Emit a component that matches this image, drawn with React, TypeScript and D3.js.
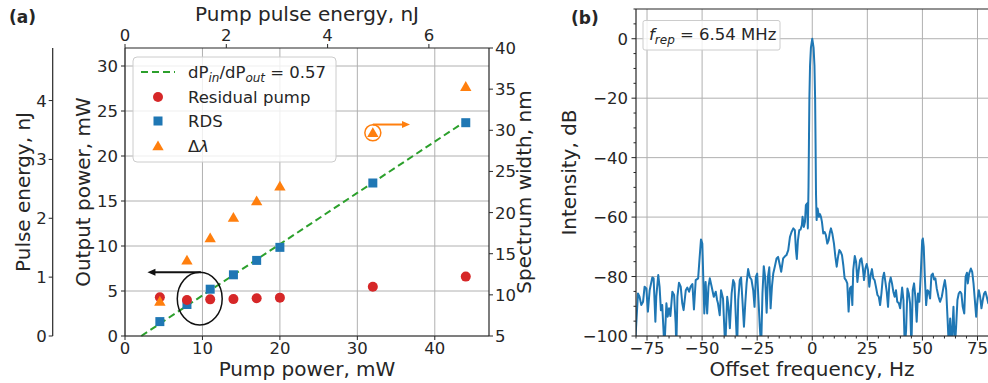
import { useEffect, useRef } from 'react'
import * as d3 from 'd3'

const WIDTH = 988
const HEIGHT = 383
const REP_RATE = 6.54 // MHz

// (a) power scaling
const pumpPower = [4.5, 8, 11, 14, 17, 20, 32, 44]
const residualPump = [4.3, 4.0, 4.07, 4.1, 4.2, 4.26, 5.48, 6.6]
const rdsPower = [1.6, 3.5, 5.2, 6.8, 8.4, 9.85, 17.0, 23.7]
const spectrumWidth = [9.2, 14.2, 16.9, 19.4, 21.4, 23.2, 29.7, 35.3]
const fitSlope = 0.57
const fitStart = 2.1
const fitEnd = 44

const pumpTicks = [0, 10, 20, 30, 40]
const outputTicks = [0, 5, 10, 15, 20, 25, 30]
const widthTicks = [5, 10, 15, 20, 25, 30, 35, 40]
const energyTicks = [0, 2, 4, 6]
const pulseTicks = [0, 1, 2, 3, 4]

// (b) RF spectrum
const freqTicks = [-75, -50, -25, 0, 25, 50, 75]
const dbTicks = [-100, -80, -60, -40, -20, 0]
const specFreq = [
  -80.5, -79.1, -78.4, -77.6, -76.8, -76.1, -75.3, -74.6, -73.8, -72.6, -72.0, -71.2, -70.8, -69.9,
  -69.3, -68.7, -68.1, -67.1, -66.2, -65.6, -65.0, -64.4, -63.5, -62.7, -62.0, -61.7, -61.2, -60.5,
  -59.7, -59.0, -58.4, -57.4, -56.7, -55.9, -55.2, -54.4, -53.7, -52.9, -51.8, -51.1, -50.5, -49.9,
  -49.3, -49.0, -48.4, -47.7, -47.1, -46.5, -45.8, -44.7, -43.8, -43.2, -42.8, -42.0, -41.4, -40.5,
  -39.5, -38.6, -38.0, -37.4, -36.6, -35.9, -35.3, -34.7, -34.1, -33.6, -32.9, -32.3, -31.7, -31.0,
  -30.4, -29.8, -29.1, -28.3, -27.6, -26.8, -26.2, -25.6, -25.0, -24.4, -23.8, -23.2, -22.6, -22.0,
  -21.4, -20.7, -20.1, -19.5, -18.9, -18.3, -17.7, -17.0, -16.2, -15.5, -14.7, -14.1, -13.2, -12.3,
  -11.7, -10.9, -10.1, -9.4, -8.6, -7.9, -7.4, -7.0, -6.5, -5.9, -5.3, -4.7, -4.4, -3.8, -3.3, -2.9,
  -2.3, -2.0, -1.7, -1.5, -1.3, -1.0, -0.6, 0, 0.6, 1.0, 1.3, 1.5, 1.7,
  1.98, 2.43, 3.04, 3.5, 3.95, 4.4, 5.0, 5.6, 6.2, 6.83, 7.43, 8.04, 8.5, 9.1, 9.86, 10.5, 11.1,
  11.7, 12.3, 12.9, 13.5, 14.1, 14.7, 15.3, 15.9, 16.5, 17.1, 17.7, 18.2, 18.6, 19.3, 19.9, 20.5,
  21.1, 21.7, 22.3, 22.9, 23.5, 24.1, 24.7, 25.3, 25.9, 26.5, 27.1, 27.7, 28.3, 28.9, 29.6, 30.2,
  30.8, 31.4, 32.0, 32.6, 33.2, 33.8, 34.4, 35.0, 35.6, 36.2, 36.8, 37.4, 38.0, 38.6, 39.3, 39.9,
  40.8, 41.4, 42.0, 42.6, 43.2, 43.8, 44.4, 45.0, 45.6, 46.2, 46.8, 47.4, 48.0, 48.6, 49.2, 49.9,
  50.2, 50.6, 51.1, 51.7, 52.3, 52.9, 53.5, 54.1, 54.7, 55.3, 55.9, 56.5, 57.3, 58.0, 58.8, 59.6,
  60.2, 60.8, 61.4, 62.0, 62.6, 63.2, 64.1, 64.7, 65.3, 65.9, 66.5, 67.1, 67.7, 68.3, 69.0, 69.6,
  70.2, 70.6, 71.2, 72.0, 72.6, 73.2, 73.8, 74.4, 75.0, 75.6, 76.2, 76.8, 77.4, 78.0, 78.6, 79.2,
  79.9, 80.5
]
const specDb = [
  -104, -85.7, -86.8, -89.6, -88.5, -83.4, -84.0, -91.8, -84.6, -80.3, -80.6, -95.2, -86.8, -79.5,
  -83.4, -91.3, -89.6, -104, -89.0, -93.5, -90.7, -93.3, -85.1, -86.2, -95.8, -104, -86.8, -82.1,
  -83.4, -89.0, -91.3, -84.6, -83.7, -85.1, -83.4, -82.5, -91.1, -81.2, -80.6, -73.4, -67.5, -68.9,
  -84.6, -92.4, -81.8, -92.4, -83.4, -80.6, -82.9, -86.8, -85.1, -87.9, -89.0, -93.0, -84.6, -87.4,
  -104, -86.8, -90.2, -97.4, -85.7, -81.2, -82.3, -93.5, -104, -87.9, -81.2, -80.3, -87.9, -96.9,
  -89.0, -82.3, -77.5, -80.3, -81.0, -84.6, -90.2, -80.1, -79.0, -87.9, -96.9, -104, -85.7, -76.5,
  -80.1, -92.2, -80.1, -76.9, -90.7, -83.4, -79.0, -76.7, -73.9, -73.4, -76.2, -78.4, -73.9, -73.1,
  -72.8, -71.1, -66.6, -65.0, -63.8, -64.4, -71.1, -74.1, -67.8, -64.4, -64.2, -62.7, -59.9, -63.3, -61.6, -56.0,
  -55.4, -63.8, -50, -35, -20, -9, -3, 0, -3, -9, -20, -35, -52,
  -61.0, -57.1, -59.9, -59.0, -59.9, -61.6, -65.5, -65.0, -66.1, -68.9, -67.8, -65.0, -63.8, -65.5, -68.9, -73.4, -76.7,
  -73.4, -71.1, -71.7, -72.8, -76.2, -80.6, -81.2, -82.3, -91.8, -84.0, -83.4, -89.6, -77.8, -73.1, -75.0, -81.8,
  -77.8, -74.5, -73.9, -76.7, -81.2, -77.3, -75.8, -77.8, -83.4, -79.5, -77.5, -80.6, -81.2, -83.4, -86.2, -86.8,
  -89.6, -85.7, -80.6, -78.7, -81.8, -85.1, -90.2, -82.3, -80.3, -82.3, -85.1, -86.8, -84.6, -88.5, -89.0, -90.7,
  -83.7, -87.9, -104, -98.0, -84.0, -85.7, -89.0, -104, -84.6, -82.3, -86.8, -95.2, -85.7, -88.5, -80.1, -67.8,
  -67.2, -70.0, -80.1, -89.6, -84.6, -85.1, -87.4, -79.5, -79.0, -81.0, -80.6, -84.0, -86.8, -88.5, -86.8, -83.4,
  -81.2, -84.6, -93.9, -104, -94.1, -104, -90.2, -104, -96.9, -87.9, -85.7, -85.1, -85.7, -90.2, -92.4, -80.1,
  -78.7, -82.3, -79.0, -77.3, -78.4, -82.3, -87.9, -93.5, -87.9, -84.6, -86.8, -90.7, -87.9, -85.7, -85.1, -86.8,
  -89.0, -88.0
]

const FONT = 'DejaVu Sans, sans-serif'
const INK = '#262626'
const GRID = '#b0b0b0'
const TICK_FS = 16.5
const LABEL_FS = 20

export default function App() {
  const svgRef = useRef<SVGSVGElement>(null)

  useEffect(() => {
    if (!svgRef.current) return
    const svg = d3.select(svgRef.current)
    svg.selectAll('*').remove()

    const seg = (x1: number, y1: number, x2: number, y2: number, color: string, w: number) =>
      svg.append('line')
        .attr('x1', x1).attr('y1', y1).attr('x2', x2).attr('y2', y2)
        .style('stroke', color).style('stroke-width', w)

    const label = (x: number, y: number, s: string, anchor: string, size = TICK_FS) =>
      svg.append('text')
        .attr('x', x).attr('y', y)
        .attr('text-anchor', anchor)
        .style('fill', INK)
        .style('font-size', size + 'px')
        .style('font-family', FONT)
        .text(s)

    const vLabel = (x: number, y: number, s: string) =>
      svg.append('text')
        .attr('transform', `translate(${x},${y}) rotate(-90)`)
        .attr('text-anchor', 'middle')
        .style('fill', INK)
        .style('font-size', LABEL_FS + 'px')
        .style('font-family', FONT)
        .text(s)

    const fmt = (v: number) => (v < 0 ? '\u2212' + Math.abs(v) : String(v))

    // ---------------- panel (a)
    const a = { left: 125, right: 489, top: 48, bottom: 336 }
    const x = d3.scaleLinear().domain([0, 47]).range([a.left, a.right])
    const y = d3.scaleLinear().domain([0, 32]).range([a.bottom, a.top])
    const yW = d3.scaleLinear().domain([5, 40]).range([a.bottom, a.top])
    const xE = d3.scaleLinear().domain([0, 47 / REP_RATE]).range([a.left, a.right])
    const yE = d3.scaleLinear().domain([0, 32 / REP_RATE]).range([a.bottom, a.top])

    // grid
    pumpTicks.forEach(t => seg(x(t), a.top, x(t), a.bottom, GRID, 1))
    outputTicks.forEach(t => seg(a.left, y(t), a.right, y(t), GRID, 1))

    // fit line
    svg.append('line')
      .attr('x1', x(fitStart)).attr('y1', y(0))
      .attr('x2', x(fitEnd)).attr('y2', y(fitSlope * (fitEnd - fitStart)))
      .style('stroke', '#2ca02c').style('stroke-width', 2)
      .style('stroke-dasharray', '7,4')

    // RDS squares
    svg.selectAll('.rds')
      .data(pumpPower)
      .join('rect')
      .attr('class', 'rds')
      .attr('x', (d) => x(d) - 4.5)
      .attr('y', (d, i) => y(rdsPower[i]) - 4.5)
      .attr('width', 9).attr('height', 9)
      .style('fill', '#1f77b4')

    // residual pump circles
    svg.selectAll('.res')
      .data(pumpPower)
      .join('circle')
      .attr('class', 'res')
      .attr('cx', d => x(d))
      .attr('cy', (d, i) => y(residualPump[i]))
      .attr('r', 5)
      .style('fill', '#d62728')

    // spectrum width triangles
    const tri = d3.symbol().type(d3.symbolTriangle).size(56)
    svg.selectAll('.dl')
      .data(pumpPower)
      .join('path')
      .attr('class', 'dl')
      .attr('d', tri)
      .attr('transform', (d, i) => `translate(${x(d)},${yW(spectrumWidth[i]) + 1})`)
      .style('fill', '#ff7f0e')

    // annotations
    const arrowHead = (tipX: number, tipY: number, dir: number, color: string) =>
      svg.append('path')
        .attr('d', `M${tipX},${tipY} L${tipX - dir * 8},${tipY - 3.5} L${tipX - dir * 8},${tipY + 3.5} Z`)
        .style('fill', color)

    seg(x(9.8), y(7.08), x(3.6), y(7.08), '#111', 2)
    arrowHead(x(2.9), y(7.08), -1, '#111')
    svg.append('ellipse')
      .attr('cx', x(9.65)).attr('cy', y(4.15))
      .attr('rx', x(9.65 + 2.9) - x(9.65)).attr('ry', y(4.15) - y(4.15 + 2.92))
      .style('fill', 'none').style('stroke', '#111').style('stroke-width', 1.5)

    svg.append('circle')
      .attr('cx', x(32)).attr('cy', yW(29.7))
      .attr('r', 8)
      .style('fill', 'none').style('stroke', '#ff7f0e').style('stroke-width', 1.5)
    seg(x(32), yW(30.7), x(36), yW(30.7), '#ff7f0e', 2)
    arrowHead(x(36.8), yW(30.7), 1, '#ff7f0e')

    // spines
    seg(a.left, a.top, a.right, a.top, INK, 1.2)
    seg(a.left, a.bottom, a.right, a.bottom, INK, 1.2)
    seg(a.left, a.top, a.left, a.bottom, INK, 1.2)
    seg(a.right, a.top, a.right, a.bottom, INK, 1.2)

    // bottom axis
    pumpTicks.forEach(t => {
      seg(x(t), a.bottom, x(t), a.bottom + 4, INK, 1)
      label(x(t), 354, String(t), 'middle')
    })
    label((a.left + a.right) / 2, 376, 'Pump power, mW', 'middle', LABEL_FS)

    // top axis
    energyTicks.forEach(t => {
      seg(xE(t), a.top, xE(t), a.top - 4, INK, 1)
      label(xE(t), 41, String(t), 'middle')
    })
    label((a.left + a.right) / 2, 21, 'Pump pulse energy, nJ', 'middle', LABEL_FS)

    // left axis
    outputTicks.forEach(t => {
      seg(a.left - 4, y(t), a.left, y(t), INK, 1)
      label(118, y(t) + 6, String(t), 'end')
    })
    vLabel(90, (a.top + a.bottom) / 2, 'Output power, mW')

    // outer left axis
    const ox = 52.7
    seg(ox, a.top, ox, a.bottom, INK, 1.2)
    pulseTicks.forEach(t => {
      seg(ox - 4, yE(t), ox, yE(t), INK, 1)
      label(46.7, yE(t) + 6, String(t), 'end')
    })
    vLabel(30, (a.top + a.bottom) / 2, 'Pulse energy, nJ')

    // right axis
    widthTicks.forEach(t => {
      seg(a.right, yW(t), a.right + 4, yW(t), INK, 1)
      label(495, yW(t) + 6, String(t), 'start')
    })
    vLabel(531, (a.top + a.bottom) / 2, 'Spectrum width, nm')

    // legend (a)
    const lg = svg.append('g')
    lg.append('rect')
      .attr('x', 133).attr('y', 57).attr('width', 203).attr('height', 105).attr('rx', 4)
      .style('fill', 'white').style('fill-opacity', 0.8)
      .style('stroke', '#cccccc').style('stroke-width', 1)
    lg.append('line')
      .attr('x1', 141).attr('y1', 72).attr('x2', 175).attr('y2', 72)
      .style('stroke', '#2ca02c').style('stroke-width', 2).style('stroke-dasharray', '7,4')
    const fitText = lg.append('text')
      .attr('x', 188).attr('y', 78)
      .style('fill', INK).style('font-size', TICK_FS + 'px').style('font-family', FONT)
    fitText.append('tspan').text('dP')
    fitText.append('tspan').attr('dy', 4).style('font-size', '12px').style('font-style', 'italic').text('in')
    fitText.append('tspan').attr('dy', -4).text('/dP')
    fitText.append('tspan').attr('dy', 4).style('font-size', '12px').style('font-style', 'italic').text('out')
    fitText.append('tspan').attr('dy', -4).text(' = ' + fitSlope)
    lg.append('circle').attr('cx', 158).attr('cy', 97).attr('r', 5).style('fill', '#d62728')
    label(188, 103, 'Residual pump', 'start')
    lg.append('rect').attr('x', 153.5).attr('y', 116.5).attr('width', 9).attr('height', 9).style('fill', '#1f77b4')
    label(188, 127, 'RDS', 'start')
    lg.append('path').attr('d', tri).attr('transform', 'translate(158,147)').style('fill', '#ff7f0e')
    const dl = label(188, 152, '', 'start')
    dl.append('tspan').text('\u0394')
    dl.append('tspan').style('font-style', 'italic').text('\u03bb')

    svg.append('text')
      .attr('x', 9).attr('y', 23)
      .style('fill', INK).style('font-size', '17px').style('font-weight', 'bold').style('font-family', FONT)
      .text('(a)')

    // ---------------- panel (b)
    const b = { left: 636, right: 988.5, top: 9, bottom: 336 }
    const xb = d3.scaleLinear().domain([-80, 80]).range([b.left, b.right])
    const yb = d3.scaleLinear().domain([-100, 10]).range([b.bottom, b.top])

    freqTicks.forEach(t => seg(xb(t), b.top, xb(t), b.bottom, GRID, 1))
    dbTicks.forEach(t => seg(b.left, yb(t), b.right, yb(t), GRID, 1))

    svg.append('clipPath').attr('id', 'clipB')
      .append('rect')
      .attr('x', b.left).attr('y', b.top).attr('width', b.right - b.left).attr('height', b.bottom - b.top)

    const spec = d3.line<number>()
      .x(d => xb(d))
      .y((d, i) => yb(specDb[i]))
    svg.append('path')
      .datum(specFreq)
      .attr('d', spec)
      .attr('clip-path', 'url(#clipB)')
      .style('fill', 'none')
      .style('stroke', '#1f77b4')
      .style('stroke-width', 2)
      .style('stroke-linejoin', 'round')

    seg(b.left, b.top, b.right, b.top, INK, 1.2)
    seg(b.left, b.bottom, b.right, b.bottom, INK, 1.2)
    seg(b.left, b.top, b.left, b.bottom, INK, 1.2)

    d3.range(-100, 11, 5).forEach(t => {
      const major = dbTicks.includes(t)
      seg(b.left - (major ? 4.5 : 2.5), yb(t), b.left, yb(t), INK, 1)
    })
    d3.range(-80, 81, 5).forEach(t => {
      const major = freqTicks.includes(t)
      seg(xb(t), b.bottom, xb(t), b.bottom + (major ? 4.5 : 2.5), INK, 1)
    })
    dbTicks.forEach(t => label(628, yb(t) + 6, fmt(t), 'end'))
    freqTicks.forEach(t => label(xb(t), 354, fmt(t), 'middle'))
    label(812, 376, 'Offset frequency, Hz', 'middle', LABEL_FS)
    vLabel(576, (b.top + b.bottom) / 2, 'Intensity, dB')

    svg.append('rect')
      .attr('x', 643).attr('y', 20.5).attr('width', 137).attr('height', 29.5).attr('rx', 2)
      .style('fill', 'white').style('fill-opacity', 0.8)
      .style('stroke', '#cccccc').style('stroke-width', 1)
    const fr = label(649, 40, '', 'start')
    fr.append('tspan').style('font-style', 'italic').text('f')
    fr.append('tspan').attr('dy', 4).style('font-size', '12px').style('font-style', 'italic').text('rep')
    fr.append('tspan').attr('dy', -4).text(' = ' + REP_RATE + ' MHz')

    svg.append('text')
      .attr('x', 571).attr('y', 24)
      .style('fill', INK).style('font-size', '17px').style('font-weight', 'bold').style('font-family', FONT)
      .text('(b)')
  }, [])

  return (
    <svg
      ref={svgRef}
      width={WIDTH}
      height={HEIGHT}
      style={{ position: 'absolute', left: 0, top: 0, background: 'white' }}
    />
  )
}
